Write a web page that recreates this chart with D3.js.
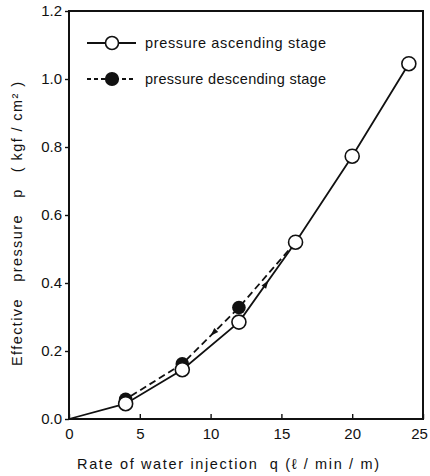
<!DOCTYPE html>
<html>
<head>
<meta charset="utf-8">
<script src="https://cdn.jsdelivr.net/npm/d3@7"></script>
<style>
  body { margin: 0; background: #fff; }
  svg { display: block; }
  text { font-family: "Liberation Sans", Arial, sans-serif; fill: #111; white-space: pre; }
</style>
</head>
<body>
<div id="chart"></div>
<script>
// data
var rateAsc = [0, 4, 8, 12, 16, 20, 24];
var pressAsc = [0, 0.045, 0.145, 0.285, 0.52, 0.773, 1.045];
var rateDesc = [16, 12, 8, 4];
var pressDesc = [0.52, 0.328, 0.162, 0.058];
var xTicks = [0, 5, 10, 15, 20, 25];
var yTicks = [0, 0.2, 0.4, 0.6, 0.8, 1.0, 1.2];
var legendLabels = ["pressure ascending stage", "pressure descending stage"];

var W = 430, H = 476;
var margin = { top: 11, right: 7, bottom: 57, left: 69 },
    width = W - margin.left - margin.right,
    height = H - margin.top - margin.bottom;

var svg = d3.select('#chart').append('svg')
    .attr('width', W)
    .attr('height', H);

var g = svg.append('g')
    .attr('transform', 'translate(' + margin.left + ',' + margin.top + ')');

var x = d3.scaleLinear().domain([0, 25]).range([0, width]);
var y = d3.scaleLinear().domain([0, 1.2]).range([height, 0]);

// axes
var xAxis = d3.axisBottom(x).tickValues(xTicks).tickSizeInner(-5).tickSizeOuter(0).tickPadding(9);
var yAxis = d3.axisLeft(y).tickValues(yTicks).tickSizeInner(4).tickSizeOuter(0).tickPadding(3)
    .tickFormat(d3.format('.1f'));

var gx = g.append('g')
    .attr('transform', 'translate(0,' + height + ')')
    .call(xAxis);
var gy = g.append('g').call(yAxis);

[gx, gy].forEach(function (a) {
    a.select('.domain').remove();
    a.selectAll('line').attr('stroke', '#111').attr('stroke-width', 1.4);
    a.selectAll('text')
        .style('font-size', '15px')
        .style('font-family', '"Liberation Sans", Arial, sans-serif')
        .attr('fill', '#111');
});
gx.selectAll('text').attr('dy', '0.71em');
// last label sits against the page edge
gx.selectAll('text').filter(function (d) { return d === 25; }).attr('dx', '-4');

// frame
g.append('rect')
    .attr('width', width)
    .attr('height', height)
    .attr('fill', 'none')
    .attr('stroke', '#111')
    .attr('stroke-width', 2);

// axis titles
svg.append('text')
    .attr('x', 228)
    .attr('y', 469)
    .attr('text-anchor', 'middle')
    .attr('textLength', 302)
    .attr('lengthAdjust', 'spacing')
    .style('font-size', '14.5px')
    .text('Rate of water injection  q (\u2113 / min / m)');

svg.append('text')
    .attr('transform', 'translate(22,224) rotate(-90)')
    .attr('text-anchor', 'middle')
    .attr('textLength', 284)
    .attr('lengthAdjust', 'spacing')
    .style('font-size', '14.5px')
    .text('Effective   pressure   p   ( kgf / cm\u00B2 )');

// series
var ascData = rateAsc.map(function (r, i) { return { x: r, y: pressAsc[i] }; });
var descData = rateDesc.map(function (r, i) { return { x: r, y: pressDesc[i] }; });

var line = d3.line()
    .x(function (d) { return x(d.x); })
    .y(function (d) { return y(d.y); });

g.append('path')
    .datum(descData)
    .attr('d', line)
    .attr('fill', 'none')
    .attr('stroke', '#111')
    .attr('stroke-width', 1.8)
    .attr('stroke-dasharray', '7,4');

g.append('path')
    .datum(ascData)
    .attr('d', line)
    .attr('fill', 'none')
    .attr('stroke', '#111')
    .attr('stroke-width', 1.8);

// direction arrows on segments
function arrow(p0, p1, t) {
    var x0 = x(p0.x), y0 = y(p0.y), x1 = x(p1.x), y1 = y(p1.y);
    var px = x0 + (x1 - x0) * t, py = y0 + (y1 - y0) * t;
    var ang = Math.atan2(y1 - y0, x1 - x0) * 180 / Math.PI;
    g.append('path')
        .attr('d', 'M4,0 L-4,-2.8 L-4,2.8 Z')
        .attr('transform', 'translate(' + px + ',' + py + ') rotate(' + ang + ')')
        .attr('fill', '#111');
}
arrow(ascData[3], ascData[4], 0.48);
arrow(descData[1], descData[2], 0.45);

// markers
g.selectAll('.desc')
    .data(descData.slice(1))
    .enter().append('circle')
    .attr('class', 'desc')
    .attr('cx', function (d) { return x(d.x); })
    .attr('cy', function (d) { return y(d.y); })
    .attr('r', 6.8)
    .attr('fill', '#111');

g.selectAll('.asc')
    .data(ascData.slice(1))
    .enter().append('circle')
    .attr('class', 'asc')
    .attr('cx', function (d) { return x(d.x); })
    .attr('cy', function (d) { return y(d.y); })
    .attr('r', 7)
    .attr('fill', '#fff')
    .attr('stroke', '#111')
    .attr('stroke-width', 1.6);

// legend
var legend = svg.append('g');
legendLabels.forEach(function (lab, i) {
    var ly = 43 + i * 36;
    var row = legend.append('g');
    row.append('line')
        .attr('x1', 87).attr('x2', 136)
        .attr('y1', ly).attr('y2', ly)
        .attr('stroke', '#111')
        .attr('stroke-width', 1.8)
        .attr('stroke-dasharray', i === 0 ? null : '4,3');
    row.append('circle')
        .attr('cx', 112).attr('cy', ly)
        .attr('r', i === 0 ? 6.5 : 6.3)
        .attr('fill', i === 0 ? '#fff' : '#111')
        .attr('stroke', '#111')
        .attr('stroke-width', 1.6);
    row.append('text')
        .attr('x', 145)
        .attr('y', ly + 5)
        .attr('textLength', 181)
        .attr('lengthAdjust', 'spacing')
        .style('font-size', '14.5px')
        .text(lab);
});
</script>
</body>
</html>
